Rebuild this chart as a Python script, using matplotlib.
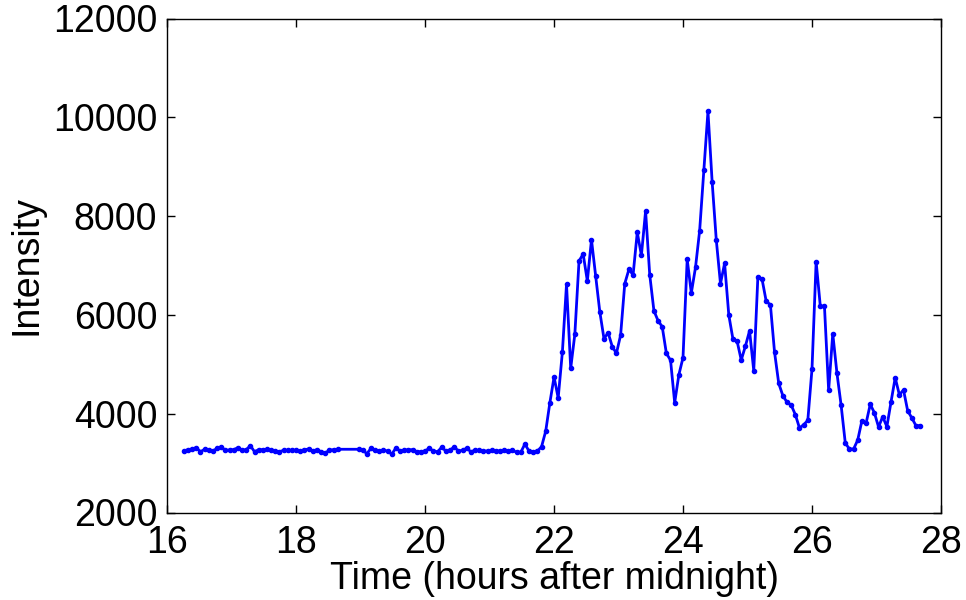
import matplotlib
matplotlib.use("Agg")
import matplotlib.pyplot as plt

# Time (hours after midnight) of each sample
time_hours = [
    16.260, 16.325, 16.389, 16.454, 16.518, 16.583, 16.647, 16.712, 16.776, 16.841,
    16.905, 16.970, 17.034, 17.099, 17.163, 17.228, 17.292, 17.357, 17.421, 17.486,
    17.550, 17.615, 17.679, 17.744, 17.808, 17.873, 17.937, 18.002, 18.066, 18.131,
    18.195, 18.260, 18.324, 18.389, 18.453, 18.518, 18.582, 18.647,
    18.969, 19.034, 19.098, 19.163, 19.227, 19.292, 19.356, 19.421, 19.485, 19.550,
    19.614, 19.679, 19.743, 19.808, 19.872, 19.937, 20.001, 20.066, 20.130, 20.195,
    20.259, 20.324, 20.388, 20.453, 20.517, 20.582, 20.646, 20.711, 20.775, 20.840,
    20.904, 20.969, 21.033, 21.098, 21.162, 21.227, 21.291, 21.356,
    21.420, 21.485, 21.549, 21.614, 21.678, 21.743, 21.807, 21.872, 21.936, 22.001,
    22.065, 22.130, 22.194, 22.259, 22.323, 22.388, 22.452, 22.517, 22.581, 22.646,
    22.710, 22.775, 22.839, 22.904, 22.968, 23.033, 23.097, 23.162, 23.226, 23.291,
    23.355, 23.420, 23.484, 23.549, 23.613, 23.678, 23.742, 23.807, 23.871, 23.936,
    24.000, 24.065, 24.129, 24.194, 24.258, 24.323, 24.387, 24.452, 24.516, 24.581,
    24.645, 24.710, 24.774, 24.839, 24.903, 24.968, 25.032, 25.097, 25.161, 25.226,
    25.290, 25.355, 25.419, 25.484, 25.548, 25.613, 25.677, 25.742, 25.806, 25.871,
    25.935, 26.000, 26.064, 26.129, 26.193, 26.258, 26.322, 26.387, 26.451, 26.516,
    26.580, 26.645, 26.709, 26.774, 26.838, 26.903, 26.967, 27.032, 27.096, 27.161,
    27.225, 27.290, 27.354, 27.419, 27.483, 27.548, 27.612, 27.677,
]

# Intensity values
intensity = [
    3245, 3271, 3285, 3312, 3231, 3278, 3259, 3245, 3298, 3326,
    3259, 3265, 3271, 3312, 3259, 3271, 3352, 3231, 3271, 3271,
    3280, 3271, 3245, 3231, 3259, 3259, 3259, 3262, 3245, 3271,
    3285, 3245, 3271, 3231, 3200, 3265, 3271, 3280,
    3280, 3265, 3190, 3300, 3259, 3245, 3259, 3245, 3180, 3310,
    3245, 3259, 3271, 3271, 3231, 3231, 3245, 3300, 3245, 3231,
    3320, 3245, 3259, 3330, 3245, 3259, 3300, 3231, 3259, 3259,
    3245, 3245, 3259, 3245, 3245, 3259, 3245, 3259,
    3219, 3219, 3387, 3239, 3230, 3245, 3332, 3650, 4223, 4743,
    4318, 5249, 6619, 4919, 5607, 7091, 7233, 6686, 7522, 6794,
    6065, 5518, 5640, 5356, 5223, 5593, 6632, 6923, 6808, 7672,
    7206, 8103, 6814, 6085, 5883, 5761, 5223, 5081, 4223, 4789,
    5134, 7126, 6443, 6964, 7705, 8927, 10121, 8690, 7516, 6632,
    7045, 5998, 5512, 5466, 5087, 5370, 5680, 4870, 6773, 6721,
    6275, 6206, 5249, 4615, 4365, 4231, 4176, 3980, 3711, 3777,
    3866, 4905, 7077, 6174, 6174, 4473, 5620, 4818, 4176, 3407,
    3285, 3285, 3468, 3859, 3805, 4190, 4020, 3731, 3940, 3737,
    4237, 4729, 4385, 4480, 4061, 3913, 3757, 3757,
]

x_ticks = [16, 18, 20, 22, 24, 26, 28]
y_ticks = [2000, 4000, 6000, 8000, 10000, 12000]
x_label = "Time (hours after midnight)"
y_label = "Intensity"

plt.rcParams['font.family'] = ['Liberation Sans', 'DejaVu Sans']

fig = plt.figure(figsize=(9.66, 6.0), dpi=100)
ax = fig.add_axes([167/966, 1 - 512.5/600, (941 - 167)/966, (512.5 - 18.5)/600])

ax.plot(time_hours, intensity, color=(0, 0, 1), linewidth=2.0,
        marker='.', markersize=6)

ax.set_xlim(16, 28)
ax.set_ylim(2000, 12000)
ax.set_xticks(x_ticks)
ax.set_yticks(y_ticks)
ax.set_xticklabels([str(v) for v in x_ticks])
ax.set_yticklabels([str(v) for v in y_ticks])
ax.tick_params(direction='in', top=True, right=True, length=6, width=1,
               labelsize=27)
ax.tick_params(axis='x', pad=9)
ax.tick_params(axis='y', pad=7)
for s in ax.spines.values():
    s.set_linewidth(1.0)
ax.set_xlabel(x_label, fontsize=27, labelpad=0)
ax.set_ylabel(y_label, fontsize=27, labelpad=6)

fig.savefig("out.png", dpi=100)
